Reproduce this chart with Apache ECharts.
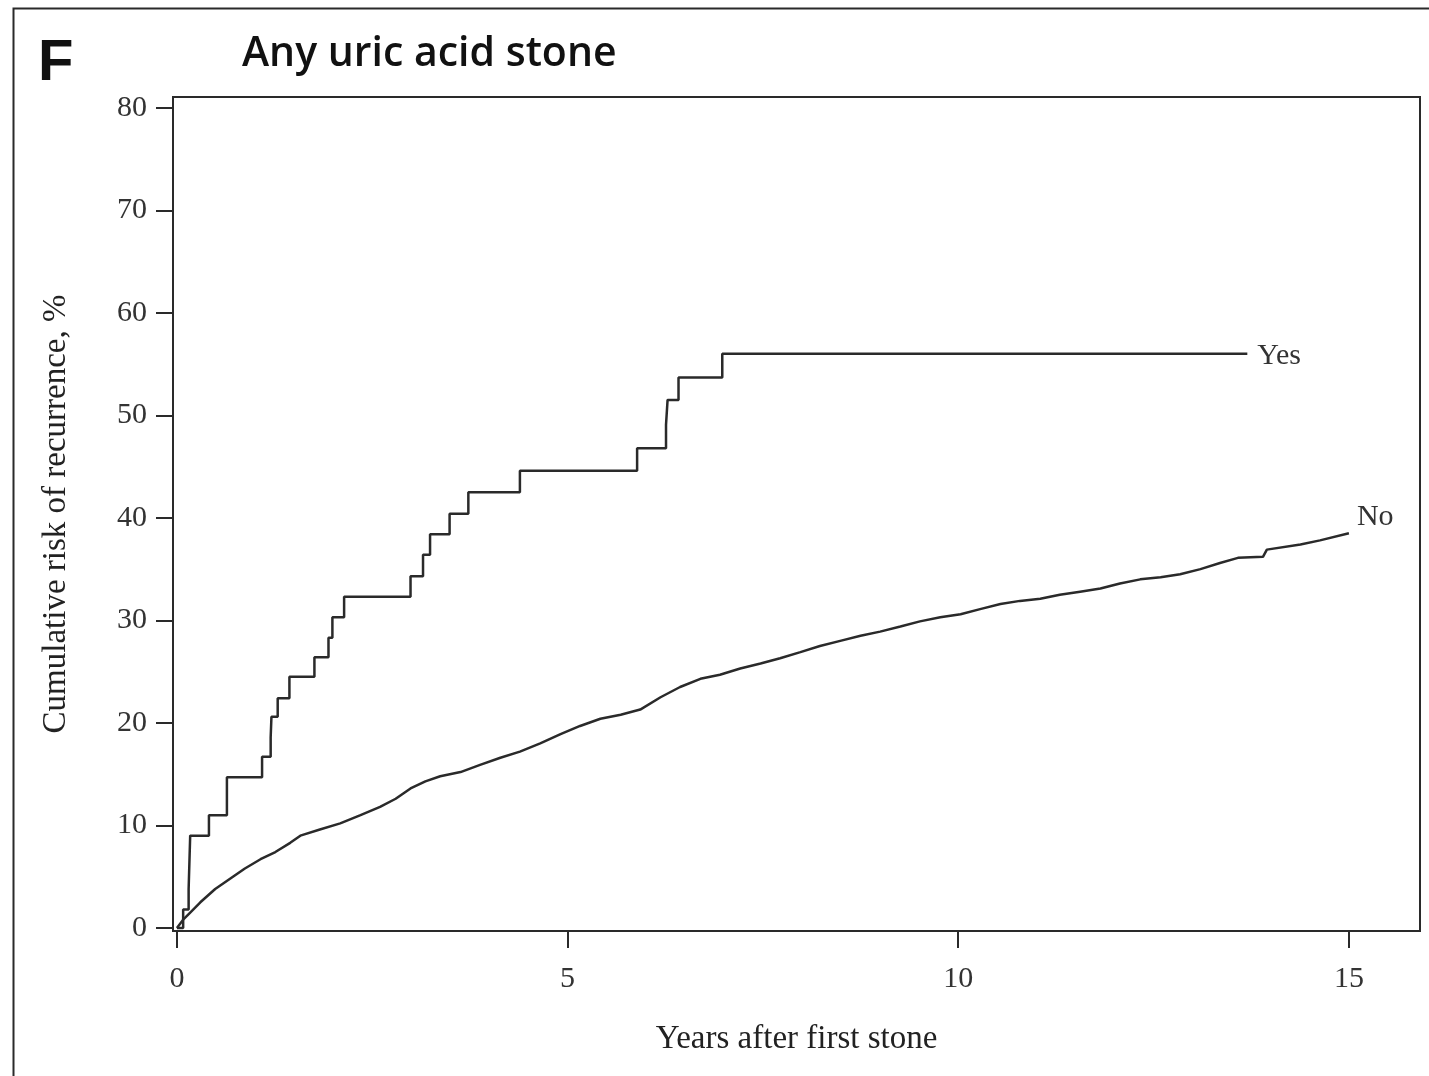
<!DOCTYPE html>
<html>
<head>
<meta charset="utf-8">
<script src="https://cdn.jsdelivr.net/npm/echarts@6/dist/echarts.min.js"></script>
<style>
html,body{margin:0;padding:0;background:#fff;}
#chart{width:1429px;height:1076px;}
</style>
</head>
<body>
<div id="chart"></div>
<script>
// Data
const yesYears = [0, 0.08, 0.15, 0.17, 0.41, 0.64, 1.09, 1.20, 1.21, 1.29, 1.44, 1.76, 1.94, 1.99, 2.14, 2.99, 3.15, 3.24, 3.49, 3.73, 4.39, 5.89, 6.26, 6.28, 6.42, 6.98, 13.70];
const yesRisk  = [0, 1.8, 3.8, 9.0, 11.0, 14.7, 16.7, 18.6, 20.6, 22.4, 24.5, 26.4, 28.3, 30.3, 32.3, 34.3, 36.4, 38.4, 40.4, 42.5, 44.6, 46.8, 49.1, 51.5, 53.7, 56.0, 56.0];

const noYears = [0, 0.08, 0.17, 0.30, 0.49, 0.68, 0.87, 1.07, 1.26, 1.45, 1.58, 1.83, 2.09, 2.35, 2.60, 2.80, 2.99, 3.18, 3.37, 3.63, 3.88, 4.14, 4.39, 4.65, 4.91, 5.16, 5.42, 5.68, 5.93, 6.19, 6.44, 6.70, 6.95, 7.21, 7.47, 7.72, 7.98, 8.23, 8.49, 8.75, 9.00, 9.26, 9.51, 9.77, 10.03, 10.28, 10.54, 10.79, 11.05, 11.30, 11.56, 11.82, 12.07, 12.33, 12.59, 12.84, 13.10, 13.35, 13.58, 13.90, 13.95, 14.38, 14.63, 15.00];
const noRisk  = [0, 0.8, 1.5, 2.5, 3.8, 4.8, 5.8, 6.7, 7.4, 8.3, 9.0, 9.6, 10.2, 11.0, 11.8, 12.6, 13.6, 14.3, 14.8, 15.2, 15.9, 16.6, 17.2, 18.0, 18.9, 19.7, 20.4, 20.8, 21.3, 22.5, 23.5, 24.3, 24.7, 25.3, 25.8, 26.3, 26.9, 27.5, 28.0, 28.5, 28.9, 29.4, 29.9, 30.3, 30.6, 31.1, 31.6, 31.9, 32.1, 32.5, 32.8, 33.1, 33.6, 34.0, 34.2, 34.5, 35.0, 35.6, 36.1, 36.2, 36.9, 37.4, 37.8, 38.5];

const xTicks = [0, 5, 10, 15];
const yTicks = [0, 10, 20, 30, 40, 50, 60, 70, 80];

const panelLetter = 'F';
const titleText = 'Any uric acid stone';
const xName = 'Years after first stone';
const yName = 'Cumulative risk of recurrence, %';

const toPairs = (xs, ys) => xs.map((x, i) => [x, ys[i]]);

const ink = '#2a2a2a';
const serif = '"Liberation Serif", "DejaVu Serif", serif';

const chart = echarts.init(document.getElementById('chart'), null, {renderer: 'canvas'});
chart.setOption({
  backgroundColor: '#fff',
  animation: false,
  grid: {
    left: 173, right: 9, top: 97, bottom: 145,
    show: true, borderColor: ink, borderWidth: 2, backgroundColor: 'transparent'
  },
  graphic: [
    {type: 'rect', left: 11, top: 6, shape: {width: 1440, height: 1100},
     style: {fill: 'none', stroke: ink, lineWidth: 2}, silent: true},
    {type: 'text', left: 38, top: 35,
     style: {text: panelLetter, font: 'bold 58px "Liberation Sans", Arial, sans-serif', fill: '#111'}},
    {type: 'text', left: 242, top: 34,
     style: {text: titleText, font: '600 41px "Open Sans", "Noto Sans", sans-serif', fill: '#111'}}
  ],
  xAxis: {
    type: 'value', min: -0.05, max: 15.91,
    name: xName, nameLocation: 'middle', nameGap: 92,
    nameTextStyle: {fontFamily: serif, fontSize: 33, color: '#222'},
    axisLine: {show: true, onZero: false, lineStyle: {color: ink, width: 2}},
    axisTick: {show: true, inside: false, length: 17, customValues: xTicks, lineStyle: {color: ink, width: 2}},
    axisLabel: {customValues: xTicks, fontFamily: serif, fontSize: 30, color: '#333', margin: 33},
    splitLine: {show: false}
  },
  yAxis: {
    type: 'value', min: -0.3, max: 81.05,
    name: yName, nameLocation: 'middle', nameGap: 100,
    nameTextStyle: {fontFamily: serif, fontSize: 33, color: '#222'},
    axisLine: {show: true, onZero: false, lineStyle: {color: ink, width: 2}},
    axisTick: {show: true, inside: false, length: 17, customValues: yTicks, lineStyle: {color: ink, width: 2}},
    axisLabel: {customValues: yTicks, fontFamily: serif, fontSize: 30, color: '#333', margin: 26},
    splitLine: {show: false}
  },
  series: [
    {
      name: 'Yes', type: 'line', step: 'end', showSymbol: false,
      data: toPairs(yesYears, yesRisk),
      lineStyle: {color: ink, width: 2.5},
      endLabel: {show: true, formatter: 'Yes', fontFamily: serif, fontSize: 30, color: '#333', distance: 10, offset: [0, 2]}
    },
    {
      name: 'No', type: 'line', showSymbol: false,
      data: toPairs(noYears, noRisk),
      lineStyle: {color: ink, width: 2.5},
      endLabel: {show: true, formatter: 'No', fontFamily: serif, fontSize: 30, color: '#333', distance: 8, offset: [0, -16]}
    }
  ]
});
</script>
</body>
</html>
